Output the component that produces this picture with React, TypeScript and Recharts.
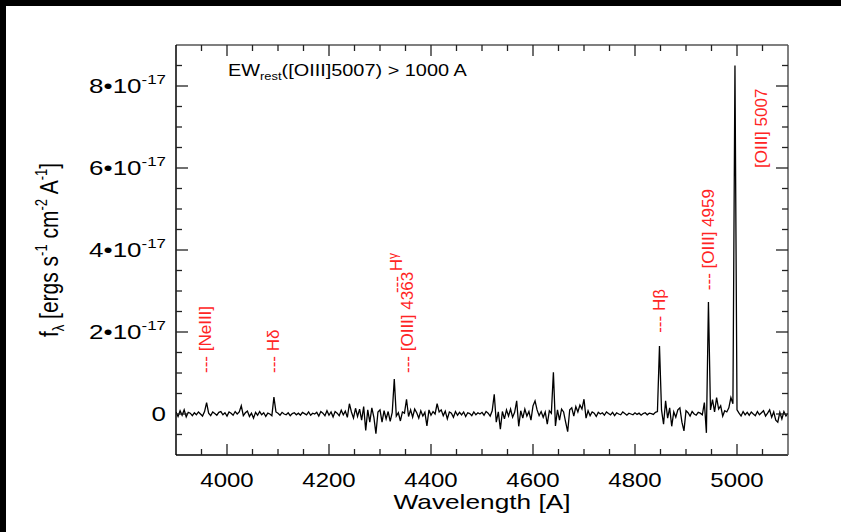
import React from "react";
import { LineChart, Line, XAxis, YAxis, ReferenceDot } from "recharts";

// flux in units of 1e-17 erg/s/cm2/A, sampled every 4 A from 3900 A
const W_START = 3900;
const W_STEP = 4;
const FLUX = [
  0.05, -0.06, 0.08, -0.03, 0.1, -0.07, 0.04, 0.02, -0.04, 0.03,
  -0.02, 0.05, 0.0, -0.05, 0.06, 0.28, 0.02, -0.04, 0.05, 0.01,
  -0.03, 0.04, 0.06, -0.02, 0.03, -0.05, 0.05, 0.02, -0.03, 0.06,
  0.0, 0.05, 0.2, -0.04, 0.03, 0.07, -0.06, 0.02, -0.1, 0.04,
  -0.03, 0.06, -0.02, 0.03, -0.06, 0.02, 0.0, -0.04, 0.41, 0.05,
  0.02, -0.03, 0.04, 0.0, -0.02, 0.03, -0.04, 0.01, 0.03, -0.02,
  0.02, -0.03, 0.04, 0.01, -0.02, 0.05, -0.03, 0.02, 0.0, 0.04,
  -0.05, 0.06, 0.02, -0.04, 0.08, -0.03, 0.05, -0.07, 0.06, 0.02,
  -0.04, 0.09, -0.02, 0.07, -0.08, 0.25, 0.05, -0.1, 0.14, -0.06,
  0.12, -0.15, 0.18, -0.4, 0.1, -0.2, 0.15, -0.08, -0.48, 0.05,
  0.1, -0.2, 0.08, -0.12, 0.06, -0.18, 0.04, 0.85, -0.05, 0.03,
  -0.17, 0.05, 0.02, 0.36, -0.06, 0.1, -0.08, 0.12, 0.03, -0.1,
  0.08, -0.05, 0.04, -0.29, 0.1, -0.03, 0.06, 0.0, 0.25, 0.05,
  0.1, -0.04, 0.07, -0.12, 0.05, 0.02, -0.08, 0.06, -0.03, 0.04,
  -0.02, 0.05, -0.06, 0.03, 0.01, -0.04, 0.05, -0.02, 0.03, 0.0,
  0.04, -0.03, 0.06, 0.02, -0.05, 0.08, 0.48, -0.2, 0.05, -0.37,
  0.06, -0.12, 0.1, -0.05, 0.12, -0.08, 0.04, 0.32, -0.3, 0.08,
  -0.1, 0.12, -0.05, 0.06, -0.15, 0.2, 0.32, 0.1, -0.04, 0.06,
  -0.08, 0.05, -0.25, 0.08, 0.02, 1.02, -0.29, 0.1, -0.15, 0.12,
  0.05, -0.2, -0.43, 0.1, 0.15, -0.05, 0.18, 0.05, 0.22, 0.12,
  0.36, -0.1, 0.08, -0.04, 0.05, 0.02, -0.06, 0.04, 0.0, 0.03,
  -0.03, 0.05, 0.01, -0.02, 0.04, -0.04, 0.03, 0.0, -0.02, 0.05,
  0.01, -0.03, 0.02, 0.0, -0.02, 0.03, -0.01, 0.02, -0.03, 0.01,
  0.03, -0.02, 0.02, 0.01, -0.01, 0.04, 0.06, 1.66, 0.1, -0.25,
  0.32, -0.1, 0.15, -0.3, 0.05, -0.08, 0.1, 0.15, -0.2, -0.41,
  0.08, 0.03, -0.05, 0.06, 0.0, -0.03, 0.04, 0.02, -0.02, 0.28,
  -0.46, 2.73, 0.1, 0.35, 0.05, 0.4, 0.12, 0.2, -0.05, 0.08,
  0.05, 0.15, 0.4, 0.25, 8.5, 0.1, 0.02, -0.05, 0.06, -0.02,
  0.04, -0.03, 0.05, 0.0, -0.04, 0.06, -0.02, 0.03, 0.08, -0.05,
  0.02, 0.1, -0.08, 0.05, -0.15, -0.2, 0.04, -0.12, 0.06, -0.05,
  0.02,
];

const X_MAJOR = [4000, 4200, 4400, 4600, 4800, 5000];
const X_TICKS = [
  3950, 4000, 4050, 4100, 4150, 4200, 4250, 4300, 4350, 4400, 4450, 4500,
  4550, 4600, 4650, 4700, 4750, 4800, 4850, 4900, 4950, 5000, 5050,
];
const Y_MAJOR = [0, 2, 4, 6, 8];
const Y_TICKS = [
  -0.5, 0, 0.5, 1, 1.5, 2, 2.5, 3, 3.5, 4, 4.5, 5, 5.5, 6, 6.5, 7, 7.5, 8,
  8.5,
];

// emission line tags: wavelength where the tag sits, flux of its lower end
const TAG_NAMES = ["[NeIII]", "H\u03b4", "[OIII] 4363", "H", "H\u03b2", "[OIII] 4959", "[OIII] 5007"];
const TAG_X = [3957, 4090, 4353, 4331, 4847, 4943, 5047];
const TAG_Y = [1.0, 1.0, 1.0, 2.95, 1.98, 3.02, 6.0];
const TAG_DASH = [true, true, true, true, true, true, false];

const FONT = "'Liberation Sans', Arial, Helvetica, sans-serif";
const RED = "#ff2424";
const TICK = "#222";

const data = FLUX.map((f, i) => ({ w: W_START + i * W_STEP, f }));

const BottomTick = (props: any) => {
  const { x, y, payload } = props;
  const major = X_MAJOR.includes(payload.value);
  return (
    <g>
      <line x1={x} x2={x} y1={y} y2={y - (major ? 11 : 6)} stroke={TICK} strokeWidth={1.3} />
      {major && (
        <text
          transform={`translate(${x},${y + 32}) scale(1.2,1)`}
          textAnchor="middle"
          fontSize={20}
          fontFamily={FONT}
          fill="#000"
        >
          {payload.value}
        </text>
      )}
    </g>
  );
};

const TopTick = (props: any) => {
  const { x, y, payload } = props;
  const major = X_MAJOR.includes(payload.value);
  return <line x1={x} x2={x} y1={y} y2={y + (major ? 11 : 6)} stroke={TICK} strokeWidth={1.3} />;
};

const LeftTick = (props: any) => {
  const { x, y, payload } = props;
  const v = payload.value;
  const major = Y_MAJOR.includes(v);
  return (
    <g>
      <line x1={x} x2={x + (major ? 12 : 6)} y1={y} y2={y} stroke={TICK} strokeWidth={1.3} />
      {major && (
        <text
          transform={`translate(${x - 10},${y + 7}) scale(1.3,1)`}
          textAnchor="end"
          fontSize={20}
          fontFamily={FONT}
          fill="#000"
        >
          {v === 0 ? (
            "0"
          ) : (
            <>
              <tspan>{`${v}\u202210`}</tspan>
              <tspan fontSize={13} dy={-9}>
                -17
              </tspan>
            </>
          )}
        </text>
      )}
    </g>
  );
};

const RightTick = (props: any) => {
  const { x, y, payload } = props;
  const major = Y_MAJOR.includes(payload.value);
  return <line x1={x} x2={x - (major ? 12 : 6)} y1={y} y2={y} stroke={TICK} strokeWidth={1.3} />;
};

const XTitle = (props: any) => {
  const vb = props.viewBox;
  return (
    <text
      transform={`translate(${vb.x + vb.width / 2},${vb.y + 54}) scale(1.25,1)`}
      textAnchor="middle"
      fontSize={21}
      fontFamily={FONT}
      fill="#000"
    >
      Wavelength [A]
    </text>
  );
};

const YTitle = (props: any) => {
  const vb = props.viewBox;
  const cx = vb.x - 117;
  const cy = vb.y + vb.height / 2;
  return (
    <text
      transform={`translate(${cx},${cy}) rotate(-90) scale(1,1.25)`}
      textAnchor="middle"
      fontSize={21}
      fontFamily={FONT}
      fill="#000"
    >
      <tspan>f</tspan>
      <tspan fontSize={13} dy={5}>{"\u03bb"}</tspan>
      <tspan dy={-5}>{" [ergs s"}</tspan>
      <tspan fontSize={13} dy={-9}>-1</tspan>
      <tspan dy={9}>{" cm"}</tspan>
      <tspan fontSize={13} dy={-9}>-2</tspan>
      <tspan dy={9}>{" A"}</tspan>
      <tspan fontSize={13} dy={-9}>-1</tspan>
      <tspan dy={9}>]</tspan>
    </text>
  );
};

const EwNote = (props: any) => {
  const vb = props.viewBox;
  return (
    <text
      transform={`translate(${vb.x},${vb.y}) scale(1.17,1)`}
      fontSize={17}
      fontFamily={FONT}
      fill="#000"
    >
      <tspan>EW</tspan>
      <tspan fontSize={11} dy={4}>rest</tspan>
      <tspan dy={-4}>([OIII]5007) &gt; 1000 A</tspan>
    </text>
  );
};

const LineTag = (props: any) => {
  const { viewBox, name, dash } = props;
  const bx = viewBox.x + viewBox.width / 2 + 6;
  const by = viewBox.y + viewBox.height / 2;
  return (
    <text
      transform={`translate(${bx},${by}) rotate(-90)`}
      fontSize={17}
      fontFamily={FONT}
      fill={RED}
    >
      {dash ? "--- " : ""}
      {name === "H" ? (
        <>
          <tspan>H</tspan>
          <tspan fontSize={12} dy={-5}>{"\u03b3"}</tspan>
        </>
      ) : (
        name
      )}
    </text>
  );
};

export default function App() {
  return (
    <div
      style={{
        position: "fixed",
        left: 0,
        top: 0,
        width: 841,
        height: 532,
        boxSizing: "border-box",
        borderTop: "6px solid #000",
        borderLeft: "6px solid #000",
        background: "#fff",
        overflow: "hidden",
      }}
    >
      <style>{"html,body{margin:0;overflow:hidden;background:#fff}"}</style>
      <LineChart
        width={841}
        height={532}
        data={data}
        margin={{ top: 44, right: 52, bottom: 76, left: 175 }}
        style={{ position: "absolute", left: -6, top: -6 }}
      >
        <XAxis
          dataKey="w"
          type="number"
          domain={[3900, 5100]}
          allowDataOverflow
          ticks={X_TICKS}
          interval={0}
          height={1}
          tickSize={0}
          tickMargin={0}
          tickLine={false}
          tick={<BottomTick />}
          axisLine={{ stroke: "#000", strokeWidth: 1.5 }}
          label={{ content: (p: any) => <XTitle {...p} /> }}
        />
        <XAxis
          xAxisId="top"
          orientation="top"
          dataKey="w"
          type="number"
          domain={[3900, 5100]}
          allowDataOverflow
          ticks={X_TICKS}
          interval={0}
          height={1}
          tickSize={0}
          tickMargin={0}
          tickLine={false}
          tick={<TopTick />}
          axisLine={{ stroke: "#555", strokeWidth: 1.5 }}
        />
        <YAxis
          type="number"
          domain={[-1, 9]}
          allowDataOverflow
          ticks={Y_TICKS}
          interval={0}
          width={1}
          tickSize={0}
          tickMargin={0}
          tickLine={false}
          tick={<LeftTick />}
          axisLine={{ stroke: "#000", strokeWidth: 1.5 }}
          label={{ content: (p: any) => <YTitle {...p} /> }}
        />
        <YAxis
          yAxisId="r"
          orientation="right"
          type="number"
          domain={[-1, 9]}
          allowDataOverflow
          ticks={Y_TICKS}
          interval={0}
          width={1}
          tickSize={0}
          tickMargin={0}
          tickLine={false}
          tick={<RightTick />}
          axisLine={{ stroke: "#555", strokeWidth: 1.5 }}
        />
        <Line
          type="linear"
          dataKey="f"
          stroke="#000"
          strokeWidth={1.3}
          dot={false}
          activeDot={false}
          isAnimationActive={false}
        />
        <ReferenceDot
          x={4002}
          y={8.24}
          r={0}
          fill="none"
          stroke="none"
          label={{ content: (p: any) => <EwNote {...p} /> }}
        />
        {TAG_NAMES.map((name, i) => (
          <ReferenceDot
            key={name + i}
            x={TAG_X[i]}
            y={TAG_Y[i]}
            r={0}
            fill="none"
            stroke="none"
            label={{ content: (p: any) => <LineTag {...p} name={name} dash={TAG_DASH[i]} /> }}
          />
        ))}
      </LineChart>
    </div>
  );
}
